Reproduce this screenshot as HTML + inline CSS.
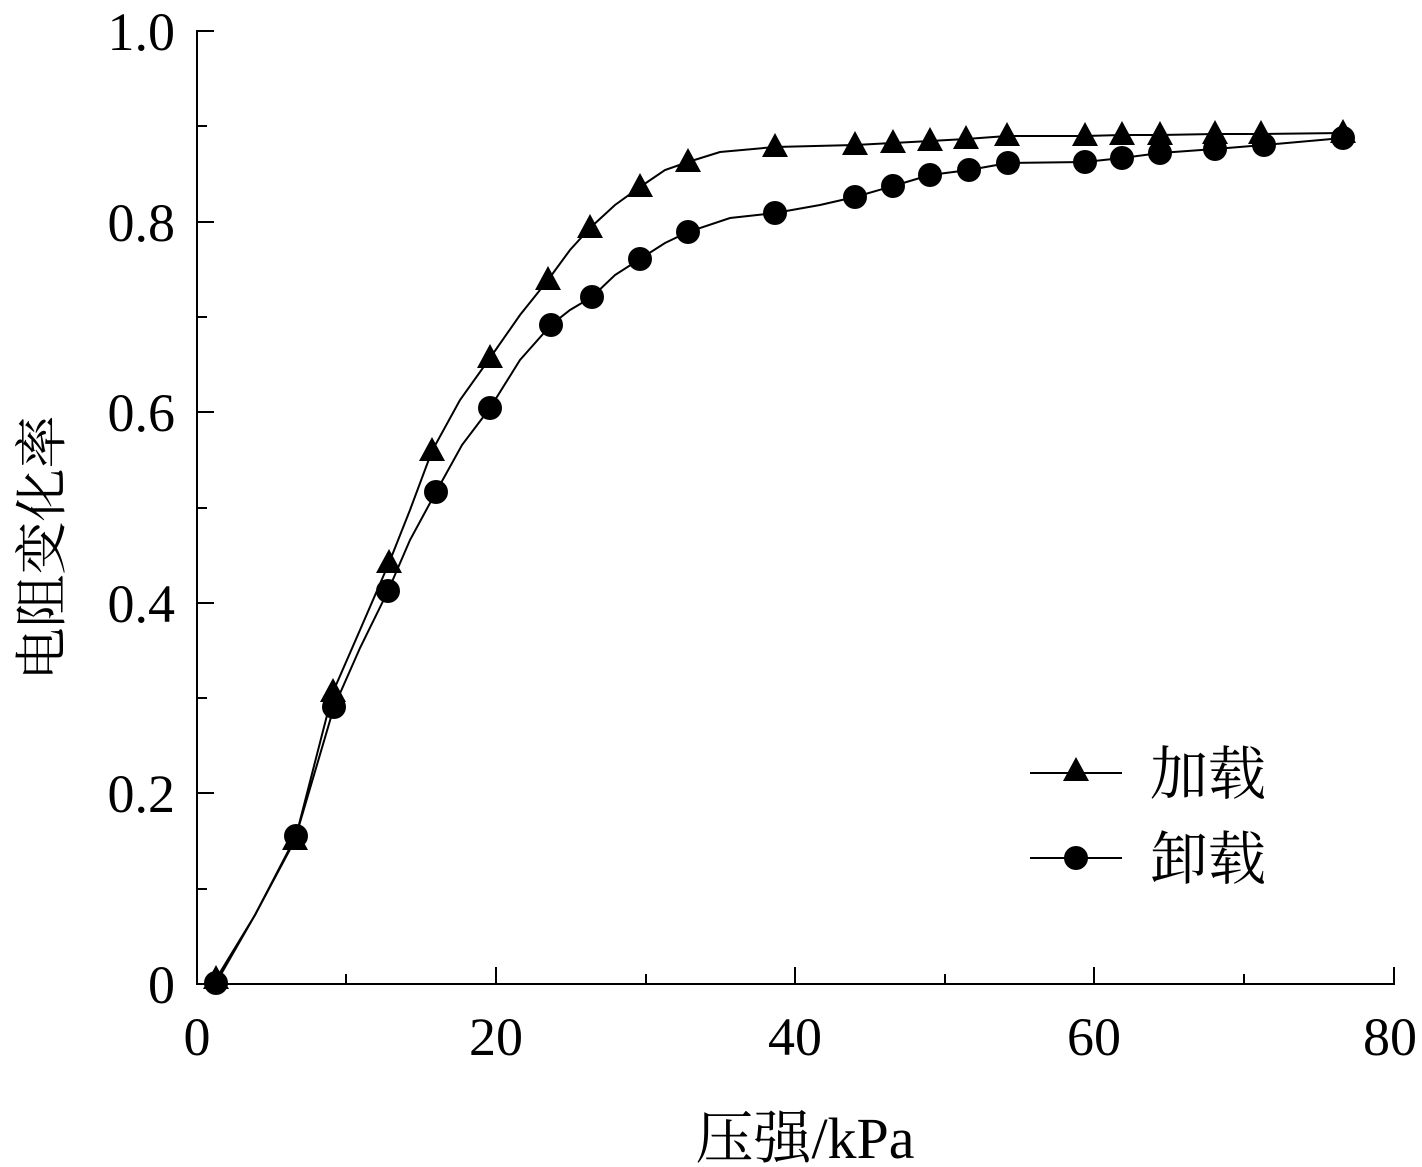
<!DOCTYPE html>
<html><head><meta charset="utf-8"><style>
html,body{margin:0;padding:0;background:#fff;}
svg{display:block;}
text{font-family:"Liberation Serif","Noto Serif CJK SC",serif;fill:#000;}
</style></head><body>
<svg width="1422" height="1167" viewBox="0 0 1422 1167" xmlns="http://www.w3.org/2000/svg">
<g stroke="#000" stroke-width="2" fill="none">
<line x1="197" y1="30" x2="197" y2="985"/>
<line x1="196" y1="984" x2="1395" y2="984"/>
<line x1="197" y1="31" x2="214" y2="31"/>
<line x1="197" y1="126" x2="207" y2="126"/>
<line x1="197" y1="222" x2="214" y2="222"/>
<line x1="197" y1="317" x2="207" y2="317"/>
<line x1="197" y1="412" x2="214" y2="412"/>
<line x1="197" y1="508" x2="207" y2="508"/>
<line x1="197" y1="603" x2="214" y2="603"/>
<line x1="197" y1="698" x2="207" y2="698"/>
<line x1="197" y1="793" x2="214" y2="793"/>
<line x1="197" y1="889" x2="207" y2="889"/>
<line x1="346" y1="984" x2="346" y2="974"/>
<line x1="496" y1="984" x2="496" y2="967"/>
<line x1="646" y1="984" x2="646" y2="974"/>
<line x1="795" y1="984" x2="795" y2="967"/>
<line x1="945" y1="984" x2="945" y2="974"/>
<line x1="1094" y1="984" x2="1094" y2="967"/>
<line x1="1244" y1="984" x2="1244" y2="974"/>
<line x1="1394" y1="984" x2="1394" y2="967"/>
</g>
<g font-size="54" text-anchor="end">
<text x="175" y="50">1.0</text>
<text x="175" y="241">0.8</text>
<text x="175" y="431">0.6</text>
<text x="175" y="622">0.4</text>
<text x="175" y="812">0.2</text>
<text x="175" y="1003">0</text>
</g>
<g font-size="54" text-anchor="middle">
<text x="197" y="1055">0</text>
<text x="496" y="1055">20</text>
<text x="795" y="1055">40</text>
<text x="1094" y="1055">60</text>
<text x="1390" y="1055">80</text>
</g>
<text x="805" y="1158" font-size="58" text-anchor="middle">压强/kPa</text>
<text transform="translate(60,548) rotate(-90)" font-size="53" text-anchor="middle">电阻变化率</text>
<g stroke="#000" stroke-width="2" fill="none">
<polyline points="216,979 255,915 295,840 333,692 360,630 389,563 410,510 432,451 460,400 490,358 520,315 548,280 570,250 590,228 615,205 640,187 665,170 688,162 720,152 775,147 855,145 893,143 930,141 966,139 1007,136 1085,136 1122,135 1160,135 1215,134 1261,134 1343,133"/>
<polyline points="216,983 255,915 296,836 334,707 360,648 388,591 410,540 436,492 462,445 490,408 520,360 551,325 570,310 592,297 615,275 640,259 665,243 688,232 730,218 775,213 820,205 855,197 893,186 930,175 969,170 1008,163 1085,162 1122,158 1160,153 1215,149 1264,145 1343,138"/>
<line x1="1030" y1="773" x2="1122" y2="773"/>
<line x1="1030" y1="858" x2="1122" y2="858"/>
</g>
<g fill="#000">
<path d="M0,-14 L13,10 L-13,10 Z" transform="translate(216,979)"/>
<path d="M0,-14 L13,10 L-13,10 Z" transform="translate(295,840)"/>
<path d="M0,-14 L13,10 L-13,10 Z" transform="translate(333,692)"/>
<path d="M0,-14 L13,10 L-13,10 Z" transform="translate(389,563)"/>
<path d="M0,-14 L13,10 L-13,10 Z" transform="translate(432,451)"/>
<path d="M0,-14 L13,10 L-13,10 Z" transform="translate(490,358)"/>
<path d="M0,-14 L13,10 L-13,10 Z" transform="translate(548,280)"/>
<path d="M0,-14 L13,10 L-13,10 Z" transform="translate(590,228)"/>
<path d="M0,-14 L13,10 L-13,10 Z" transform="translate(640,187)"/>
<path d="M0,-14 L13,10 L-13,10 Z" transform="translate(688,162)"/>
<path d="M0,-14 L13,10 L-13,10 Z" transform="translate(775,147)"/>
<path d="M0,-14 L13,10 L-13,10 Z" transform="translate(855,145)"/>
<path d="M0,-14 L13,10 L-13,10 Z" transform="translate(893,143)"/>
<path d="M0,-14 L13,10 L-13,10 Z" transform="translate(930,141)"/>
<path d="M0,-14 L13,10 L-13,10 Z" transform="translate(966,139)"/>
<path d="M0,-14 L13,10 L-13,10 Z" transform="translate(1007,136)"/>
<path d="M0,-14 L13,10 L-13,10 Z" transform="translate(1085,136)"/>
<path d="M0,-14 L13,10 L-13,10 Z" transform="translate(1122,135)"/>
<path d="M0,-14 L13,10 L-13,10 Z" transform="translate(1160,135)"/>
<path d="M0,-14 L13,10 L-13,10 Z" transform="translate(1215,134)"/>
<path d="M0,-14 L13,10 L-13,10 Z" transform="translate(1261,134)"/>
<path d="M0,-14 L13,10 L-13,10 Z" transform="translate(1343,133)"/>
<path d="M0,-14 L13,10 L-13,10 Z" transform="translate(1076,771)"/>
<circle cx="216" cy="983" r="12"/><circle cx="296" cy="836" r="12"/>
<circle cx="334" cy="707" r="12"/><circle cx="388" cy="591" r="12"/>
<circle cx="436" cy="492" r="12"/><circle cx="490" cy="408" r="12"/>
<circle cx="551" cy="325" r="12"/><circle cx="592" cy="297" r="12"/>
<circle cx="640" cy="259" r="12"/><circle cx="688" cy="232" r="12"/>
<circle cx="775" cy="213" r="12"/><circle cx="855" cy="197" r="12"/>
<circle cx="893" cy="186" r="12"/><circle cx="930" cy="175" r="12"/>
<circle cx="969" cy="170" r="12"/><circle cx="1008" cy="163" r="12"/>
<circle cx="1085" cy="162" r="12"/><circle cx="1122" cy="158" r="12"/>
<circle cx="1160" cy="153" r="12"/><circle cx="1215" cy="149" r="12"/>
<circle cx="1264" cy="145" r="12"/><circle cx="1343" cy="138" r="12"/>
<circle cx="1076" cy="858" r="12"/>
</g>
<text x="1150" y="794" font-size="58">加载</text>
<text x="1150" y="879" font-size="58">卸载</text>
</svg>
</body></html>
